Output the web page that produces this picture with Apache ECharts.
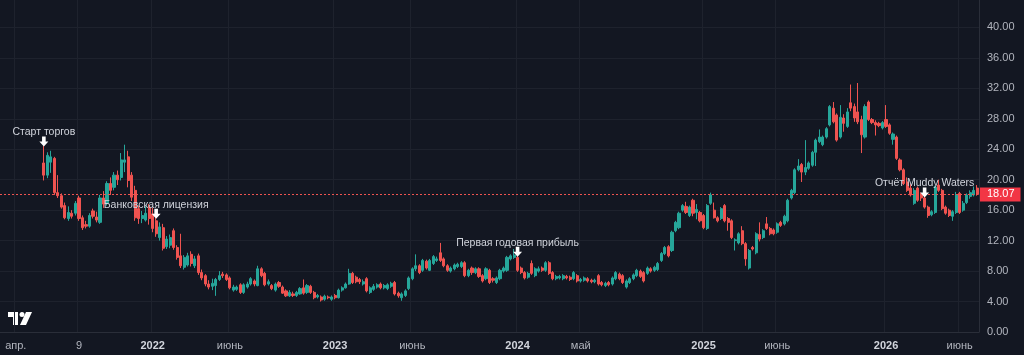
<!DOCTYPE html>
<html><head><meta charset="utf-8">
<script src="https://cdn.jsdelivr.net/npm/echarts@6/dist/echarts.min.js"></script>
<style>html,body{margin:0;padding:0;background:#131722;}#c{width:1024px;height:355px;}</style>
</head><body><div id="c"></div>
<script>
// Weekly categories (Monday of each week)
const weekStart = '2021-03-08';
const weekCount = 279;
const firstCandle = '2021-05-31';

// [open, close, low, high] per week, starting at firstCandle
const candles = [
[22.2,20.6,19.9,24.5],[20.6,23.2,20.2,23.6],[22.3,23.0,20.9,23.8],[22.8,18.3,18.0,23.0],[18.3,17.9,17.6,20.6],
[17.9,16.4,16.2,18.2],[16.6,15.0,14.8,17.0],[14.9,15.7,14.6,16.5],[15.6,15.2,14.9,16.0],[15.6,16.9,15.3,17.2],
[17.6,14.9,14.6,17.9],[15.0,13.7,13.4,15.3],[14.1,13.9,13.6,14.6],[13.9,15.3,13.7,15.6],[15.9,15.2,14.9,16.2],
[15.1,14.7,14.4,15.8],[14.4,17.6,14.2,18.0],[17.6,16.8,16.3,18.5],[16.9,19.5,16.6,19.8],[19.5,18.6,18.0,20.3],
[19.0,20.6,18.6,21.0],[20.6,20.0,19.3,21.2],[20.3,22.6,19.9,23.5],[22.3,22.6,21.0,24.6],[23.0,19.9,19.0,23.8],
[20.6,17.7,17.2,21.0],[18.6,15.0,14.6,19.2],[16.2,14.9,14.2,16.6],[14.9,15.3,14.3,15.9],[14.7,15.6,14.5,16.5],
[16.4,14.9,14.1,16.8],[15.5,13.6,13.1,16.3],[14.6,12.9,12.5,15.0],[12.4,13.8,12.0,14.4],[13.7,11.0,10.7,14.2],
[11.2,12.2,10.9,12.6],[11.4,12.4,11.0,12.8],[13.3,11.1,10.8,13.6],[11.1,9.8,9.5,11.4],[10.0,8.7,8.4,12.9],
[8.5,9.8,8.2,10.1],[8.8,10.0,8.6,10.4],[10.2,9.0,8.6,10.6],[8.7,9.6,8.4,10.0],[10.0,7.8,7.5,10.3],
[7.8,7.1,6.8,8.2],[7.4,6.3,6.0,7.6],[6.3,5.9,5.6,6.8],[6.0,6.4,5.5,7.0],[6.1,6.9,4.75,7.1],
[6.9,7.4,6.7,8.0],[7.6,7.4,7.1,7.9],[7.5,6.9,6.7,7.7],[7.1,5.8,5.6,7.3],[5.5,5.9,5.3,6.2],
[5.6,5.9,5.4,6.1],[6.2,5.2,5.0,6.4],[5.2,6.2,5.0,6.4],[5.9,6.3,5.7,6.6],[6.3,7.0,6.1,7.2],
[6.7,6.3,6.0,6.9],[6.1,8.3,6.0,8.7],[8.3,7.4,7.2,8.5],[7.7,6.2,6.0,7.9],[6.3,6.6,6.1,6.9],
[6.1,5.7,5.5,6.3],[5.5,6.3,5.3,6.5],[6.5,6.0,5.8,6.7],[5.9,5.1,5.0,6.1],[5.4,4.75,4.6,5.6],
[4.75,5.2,4.6,5.5],[5.0,4.8,4.6,5.3],[4.8,5.2,4.6,5.4],[5.0,5.7,4.9,5.9],[5.8,5.1,4.9,6.9],
[5.2,6.1,5.0,6.3],[6.0,5.2,5.0,6.2],[5.2,4.5,4.3,5.4],[4.6,4.8,4.4,5.0],[4.6,4.2,4.0,4.8],
[4.3,4.7,4.1,4.9],[4.6,4.5,4.3,4.8],[4.3,4.6,4.1,4.8],[4.8,4.5,4.3,5.0],[4.5,5.5,4.4,5.7],
[5.5,5.8,5.3,6.0],[5.8,6.3,5.7,6.5],[6.3,7.7,6.2,8.3],[7.7,6.5,6.3,7.9],[7.2,6.6,6.4,7.4],
[6.9,6.6,6.3,7.1],[6.3,6.6,6.1,6.9],[7.0,5.4,5.2,7.2],[5.2,5.8,5.0,6.0],[5.6,6.0,5.4,6.3],
[5.9,6.2,5.7,6.4],[6.3,5.8,5.6,6.5],[5.8,6.1,5.6,6.3],[5.7,6.2,5.5,6.4],[6.0,6.4,5.8,6.6],
[6.5,5.0,4.8,6.7],[5.1,4.75,4.5,5.3],[4.5,5.0,4.1,5.2],[4.8,5.4,4.6,5.6],[5.7,7.1,5.5,7.3],
[7.0,8.3,6.8,8.5],[8.3,8.7,8.0,10.2],[8.7,7.8,7.6,8.9],[8.1,9.4,7.9,9.6],[9.3,8.4,8.2,9.5],
[8.1,9.4,8.0,9.6],[9.0,9.9,8.8,10.1],[9.4,9.6,9.2,9.9],[10.4,9.4,9.2,11.7],[9.6,8.7,8.5,9.8],
[8.7,8.1,7.9,8.9],[8.0,8.4,7.8,8.6],[8.3,8.8,8.1,9.0],[8.6,8.9,8.4,9.1],[8.6,9.1,8.4,9.3],
[9.1,7.4,7.2,9.3],[7.4,8.1,7.2,8.3],[8.4,7.8,7.5,8.6],[7.8,8.3,7.6,8.5],[8.3,7.3,7.1,8.5],
[7.4,6.7,6.5,7.6],[7.0,8.3,6.8,8.5],[8.1,6.5,6.3,8.3],[7.0,6.8,6.5,7.2],[6.5,7.1,6.3,7.3],
[7.0,8.1,6.8,8.3],[8.0,8.4,7.8,8.6],[8.1,9.8,7.9,10.0],[9.6,10.0,9.4,10.2],[9.8,10.1,9.6,10.9],
[9.8,8.1,7.9,10.0],[8.4,7.8,7.6,8.6],[7.8,7.1,6.9,8.0],[7.2,7.7,7.0,7.9],[9.0,7.7,7.5,9.4],
[7.4,8.3,7.2,8.5],[8.0,8.3,7.8,8.6],[8.4,8.1,7.9,8.6],[8.1,9.1,7.9,9.3],[9.1,7.7,7.5,9.3],
[7.8,7.0,6.8,8.0],[7.0,7.3,6.8,7.5],[7.1,7.3,6.9,7.5],[7.0,7.4,6.8,7.6],[7.3,7.1,6.9,7.5],
[7.2,6.9,6.7,7.4],[7.0,7.8,6.8,8.0],[7.4,6.7,6.5,7.6],[6.7,6.9,6.5,7.1],[6.8,7.1,6.6,7.3],
[7.0,6.7,6.5,7.2],[6.8,6.6,6.4,7.0],[6.6,6.8,6.4,7.0],[7.4,6.3,6.1,7.6],[6.5,6.2,6.0,6.7],
[6.1,6.4,5.9,6.6],[6.5,6.2,6.0,6.7],[6.3,7.1,6.1,7.3],[7.0,7.8,6.8,8.0],[7.6,7.0,6.8,7.8],
[7.4,6.5,6.3,7.6],[5.9,6.7,5.7,6.9],[6.5,7.0,6.3,7.2],[7.0,7.5,6.8,7.7],[7.4,8.1,7.2,8.3],
[8.0,7.3,7.1,8.2],[7.8,6.7,6.5,8.0],[7.7,8.4,7.5,8.6],[8.3,8.0,7.8,8.5],[8.1,8.5,7.9,8.7],
[8.2,9.0,8.0,9.2],[9.4,10.3,9.2,10.5],[10.3,11.1,10.1,11.3],[11.2,10.0,9.8,11.4],[10.7,13.1,10.5,13.3],
[13.3,14.4,13.1,14.6],[13.7,15.6,13.5,15.8],[16.0,16.6,15.8,16.8],[16.5,15.7,15.5,17.1],[15.3,16.4,15.1,16.6],
[17.3,15.6,15.2,17.5],[15.7,16.1,14.8,16.8],[15.7,14.6,14.4,15.9],[15.3,13.7,13.5,15.5],[13.6,16.6,13.4,16.8],
[16.9,18.0,16.7,18.3],[16.0,15.0,14.9,17.0],[15.0,14.6,14.4,15.2],[14.9,16.2,14.7,16.4],[16.6,14.6,14.4,16.8],
[14.9,14.4,13.3,15.1],[14.6,12.4,12.2,14.8],[12.0,12.1,10.7,12.3],[11.7,12.9,11.5,13.1],[13.3,11.6,11.4,13.9],
[11.6,9.6,8.7,11.8],[8.4,10.7,8.2,10.9],[11.1,10.9,10.7,11.3],[10.4,12.9,10.2,13.1],[12.8,12.2,11.9,14.4],
[12.4,13.3,12.2,13.5],[14.2,13.6,13.4,15.1],[13.6,12.9,12.7,13.8],[13.4,12.9,12.7,13.6],[13.1,14.2,12.9,14.4],
[14.4,14.0,13.8,14.6],[14.2,15.2,14.0,15.4],[14.6,17.3,14.4,17.5],[17.6,18.6,17.4,18.8],[18.3,21.3,18.1,21.5],
[21.3,21.8,21.1,22.7],[22.0,21.0,19.7,22.2],[21.0,21.6,20.6,25.2],[21.5,22.2,21.3,22.4],[21.9,23.6,21.7,23.8],
[23.6,25.2,21.8,25.4],[25.0,25.6,24.8,26.6],[24.6,25.6,24.4,25.8],[25.6,26.7,25.4,26.9],[27.2,29.6,27.0,29.8],
[29.4,27.6,27.4,30.2],[28.5,25.2,25.0,28.7],[25.6,28.2,25.4,29.8],[28.1,27.4,26.3,28.6],[27.0,28.9,26.8,29.4],
[30.1,29.4,29.0,32.5],[29.6,28.1,27.6,30.0],[28.9,27.6,27.3,32.7],[27.9,25.9,23.5,28.4],[25.6,29.6,25.4,29.9],
[30.2,27.9,27.7,30.4],[27.9,27.5,27.3,28.1],[27.5,27.2,25.8,27.8],[27.4,27.1,26.9,27.6],[26.8,27.5,26.6,27.7],
[27.9,27.0,26.8,29.8],[27.2,26.1,25.9,27.4],[25.3,26.0,24.6,26.2],[25.6,22.8,22.6,25.8],[22.6,21.3,21.1,22.8],
[21.3,19.5,19.3,21.5],[19.7,18.6,18.4,20.3],[18.9,18.0,17.8,19.4],[16.9,18.6,16.7,18.9],[18.9,17.3,17.1,19.1],
[18.0,17.6,17.2,18.3],[17.6,16.4,16.2,17.8],[16.4,15.3,15.0,16.6],[15.4,15.8,15.2,16.0],[15.7,19.0,15.5,19.2],
[19.3,18.6,18.4,20.0],[18.6,16.2,16.0,18.8],[16.4,15.6,15.4,16.6],[16.0,15.3,15.1,16.2],[15.2,15.8,14.6,16.0],
[15.7,18.0,15.5,18.4],[18.2,15.7,15.5,18.4],[16.0,16.9,15.8,17.2],[17.0,18.0,16.8,18.2],[17.8,18.3,17.5,18.6],
[18.0,18.6,17.8,19.1],[18.9,18.07,17.9,19.3]
];

// Time-axis labels: [week, text, isYear]
const tickLabels = [
  ['2021-04-05','апр.',false],['2021-08-09','9',false],['2022-01-03','2022',true],['2022-06-06','июнь',false],
  ['2023-01-02','2023',true],['2023-06-05','июнь',false],['2024-01-01','2024',true],['2024-05-06','май',false],
  ['2025-01-06','2025',true],['2025-06-02','июнь',false],['2026-01-05','2026',true],['2026-06-01','июнь',false]
];

// Event annotations: [week, text]
const annotations = [
  ['2021-05-31','Старт торгов'],
  ['2022-01-10','Банковская лицензия'],
  ['2024-01-01','Первая годовая прибыль'],
  ['2026-03-23','Отчёт Muddy Waters']
];

const FONT = '"Liberation Sans", Roboto, sans-serif';
const UP = '#26a69a', DOWN = '#ef5350';

const categories = [];
const t0 = Date.parse(weekStart + 'T00:00:00Z');
for (let i = 0; i < weekCount; i++) categories.push(new Date(t0 + i * 7 * 86400000).toISOString().slice(0, 10));
const startIdx = categories.indexOf(firstCandle);
const seriesData = candles.map((c, k) => [categories[startIdx + k], c[0], c[1], c[2], c[3]]);
const highByDate = {};
seriesData.forEach(d => { highByDate[d[0]] = d[4]; });
const lastPrice = candles[candles.length - 1][1];

const tickMap = {};
tickLabels.forEach(t => { tickMap[t[0]] = t; });
const isTick = (idx, val) => !!tickMap[val];

const arrowPath = 'path://M3,0 L7,0 L7,5 L10,5 L5,10 L0,5 L3,5 Z';

const chart = echarts.init(document.getElementById('c'), null, {renderer: 'canvas'});
chart.setOption({
  backgroundColor: '#131722',
  animation: false,
  textStyle: {fontFamily: FONT},
  grid: {left: 0, right: 45, top: 0, bottom: 23, containLabel: false},
  xAxis: {
    type: 'category', data: categories, boundaryGap: true,
    axisLine: {show: true, lineStyle: {color: '#2a2e39'}},
    axisTick: {show: false},
    axisLabel: {
      interval: isTick, color: '#b2b5be', fontSize: 11, fontFamily: FONT, margin: 8,
      formatter: v => { const t = tickMap[v]; if (!t) return ''; return t[2] ? '{b|' + t[1] + '}' : t[1]; },
      rich: {b: {fontWeight: 'bold', color: '#d1d4dc', fontSize: 11, fontFamily: FONT}}
    },
    splitLine: {show: true, interval: isTick, lineStyle: {color: '#1e222d', width: 1}}
  },
  yAxis: {
    type: 'value', position: 'right', min: 0, max: 43.6, interval: 4, scale: false,
    axisLine: {show: true, lineStyle: {color: '#2a2e39'}},
    axisTick: {show: false},
    axisLabel: {
      color: '#b2b5be', fontSize: 11, fontFamily: FONT, margin: 8, showMaxLabel: false,
      formatter: v => (Math.abs(v % 4) < 1e-6 ? v.toFixed(2) : '')
    },
    splitLine: {show: true, showMaxLine: false, lineStyle: {color: '#1e222d', width: 1}}
  },
  series: [{
    type: 'candlestick',
    data: seriesData,
    encode: {x: 0, y: [1, 2, 3, 4]},
    barWidth: 2.6,
    itemStyle: {color: UP, color0: DOWN, borderColor: UP, borderColor0: DOWN, borderWidth: 1},
    markLine: {
      silent: true, symbol: ['none', 'none'], animation: false,
      lineStyle: {color: DOWN, type: [2, 2], width: 1},
      label: {
        show: true, position: 'end', distance: 1,
        formatter: () => lastPrice.toFixed(2),
        color: '#ffffff', backgroundColor: '#f23645', fontSize: 11, fontFamily: FONT,
        padding: [2, 6, 1, 7]
      },
      data: [{yAxis: lastPrice}]
    },
    markPoint: {
      silent: true, animation: false,
      symbol: arrowPath, symbolSize: [9, 10], symbolOffset: [0, -4],
      itemStyle: {color: '#ffffff'},
      label: {show: true, position: 'inside', offset: [0, -9], color: '#d1d4dc', fontSize: 10.5, fontFamily: FONT},
      data: annotations.map(a => ({coord: [a[0], highByDate[a[0]]], name: a[1], label: {formatter: a[1]}}))
    }
  }],
  graphic: [{
    type: 'group', left: 8, top: 312,
    children: [
      {type: 'polygon', shape: {points: [[0,0],[10,0],[10,13],[5,13],[5,5],[0,5]]}, style: {fill: '#ffffff'}},
      {type: 'circle', shape: {cx: 14, cy: 2.5, r: 2.5}, style: {fill: '#ffffff'}},
      {type: 'polygon', shape: {points: [[18,0],[24,0],[18,13],[12,13]]}, style: {fill: '#ffffff'}}
    ]
  }]
});
</script>
</body></html>
